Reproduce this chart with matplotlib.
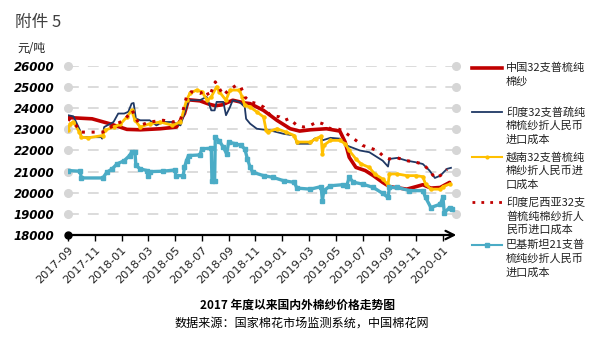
import matplotlib
matplotlib.use("Agg")
import matplotlib.pyplot as plt
from matplotlib.lines import Line2D

plt.rcParams['font.family'] = ['Noto Sans CJK SC', 'DejaVu Sans']

# ---------------- data (x = months since 2017-09) ----------------
tick_labels = ['2017-09', '2017-11', '2018-01', '2018-03', '2018-05', '2018-07', '2018-09',
               '2018-11', '2019-01', '2019-03', '2019-05', '2019-07', '2019-09', '2019-11', '2020-01']
y_ticks = [18000, 19000, 20000, 21000, 22000, 23000, 24000, 25000, 26000]

china_m = [0, 1.8, 3.1, 4.4, 5.4, 6.9, 8.1, 8.7, 9.0, 9.85, 10.5, 11.0, 11.5, 12.3, 13.2, 13.6,
           14.6, 15.6, 16.6, 17.3, 18.1, 19.3, 20.3, 20.7, 21.0, 21.5, 22.2, 22.8, 23.5, 24.0,
           25.3, 26.0, 26.5, 27.1, 27.8, 28.5]
china_v = [23560, 23500, 23270, 23000, 22980, 23030, 23110, 23750, 24400, 24350, 24200, 24120,
           24160, 24380, 24250, 24220, 23900, 23430, 23030, 22920, 22980, 23030, 22920, 22400,
           21680, 21200, 21050, 20810, 20490, 20290, 20170, 20290, 20380, 20220, 20250, 20490]

india_m = [0, 0.4, 0.9, 1.0, 2.5, 2.55, 2.7, 3.4, 3.75, 4.2, 4.5, 4.75, 4.9, 5.07, 5.4, 6.1,
           6.6, 7.1, 7.8, 8.4, 8.85, 9.0, 9.85, 10.35, 10.7, 10.95, 11.1, 11.6, 11.8, 12.1,
           12.3, 12.8, 13.2, 13.3, 13.6, 14.1, 15.1, 16.1, 16.9, 17.1, 18.1, 18.4, 18.9, 19.0,
           19.6, 20.3, 20.8, 21.8, 22.5, 22.9, 23.5, 23.9, 24.0, 24.6, 25.3, 26.0, 26.5, 27.0,
           27.4, 27.8, 28.3, 28.6]
india_v = [23670, 23620, 22950, 22630, 22630, 22560, 23110, 23350, 23750, 23750, 23830, 24220,
           24250, 23510, 23430, 23430, 23190, 23350, 23350, 23190, 24060, 24380, 24380, 24540,
           23900, 23900, 24300, 24300, 23670, 24060, 24380, 24300, 24060, 23500, 23270, 23030,
           22950, 22790, 22710, 22320, 22320, 22560, 22630, 22480, 22600, 22560, 22240, 22000,
           21920, 21760, 21520, 21240, 21600, 21650, 21520, 21440, 21360, 21050, 20700, 20810,
           21130, 21180]

viet_m = [0, 0.15, 0.4, 0.85, 1.0, 1.5, 2.6, 2.75, 3.4, 3.9, 4.4, 4.75, 5.0, 5.4, 6.1, 6.9,
          7.8, 8.4, 8.85, 9.1, 9.6, 10.0, 10.4, 10.7, 11.1, 11.3, 11.8, 12.1, 12.8, 13.0, 13.2,
          13.6, 14.1, 14.6, 14.8, 14.9, 15.6, 16.3, 16.9, 17.1, 18.1, 18.5, 18.9, 19.0, 19.1,
          19.6, 20.3, 20.7, 21.0, 21.5, 21.9, 22.5, 22.9, 23.5, 23.9, 24.0, 24.6, 25.3, 26.0,
          26.5, 26.7, 27.1, 27.8, 28.0, 28.5]
viet_v = [22950, 23270, 23350, 22870, 22630, 22600, 22710, 22950, 23110, 23240, 23590, 23900,
          23430, 23110, 23270, 23350, 23190, 23350, 24380, 24700, 24860, 24780, 24380, 24540,
          25020, 24780, 24380, 24860, 24860, 24540, 24140, 24060, 23830, 23590, 22950, 22870,
          23030, 22870, 22710, 22400, 22400, 22560, 22670, 21840, 22240, 22480, 22480, 22320,
          22000, 21600, 21360, 21200, 20890, 20650, 20380, 20890, 20890, 20810, 20810, 20760,
          20410, 20170, 20170, 20290, 20410]

indo_m = [0, 0.3, 0.6, 1.0, 2.6, 3.0, 3.65, 4.2, 4.6, 4.8, 5.07, 5.4, 6.1, 7.1, 7.8, 8.4,
          8.85, 9.2, 9.85, 10.3, 10.55, 11.0, 11.3, 11.6, 12.0, 12.6, 12.9, 13.2, 13.6, 14.1,
          14.6, 15.1, 15.8, 16.2, 16.5, 17.1, 17.6, 18.1, 18.6, 19.0, 19.6, 20.1, 20.5, 21.0,
          21.5, 22.0, 22.5, 23.1, 23.6, 24.0, 24.6, 25.3, 26.0, 26.5, 27.0, 27.4, 27.8, 28.3]
indo_v = [23510, 23350, 23190, 22870, 22870, 23030, 23270, 23430, 23750, 23900, 23510, 23190,
          23350, 23430, 23350, 23430, 24540, 24780, 24700, 24860, 24540, 25250, 24940, 24620,
          24860, 25100, 25020, 24540, 24300, 24220, 24060, 23670, 23590, 23430, 23510, 23190,
          23110, 23190, 23350, 23270, 23030, 23030, 22950, 22710, 22480, 22240, 22130, 22000,
          21700, 21600, 21650, 21520, 21440, 21360, 21050, 20700, 20810, 21100]

pak_m = [0, 0.9, 1.0, 2.6, 2.9, 3.3, 3.65, 4.2, 4.6, 4.75, 5.0, 5.07, 5.4, 5.9, 6.0, 6.1, 7.1,
         8.0, 8.05, 8.6, 8.7, 8.85, 9.0, 9.85, 10.0, 10.7, 10.75, 10.95, 11.0, 11.3, 11.6, 11.85,
         12.0, 12.5, 12.9, 13.2, 13.4, 13.6, 13.8, 14.6, 15.3, 16.1, 16.9, 17.1, 18.1, 18.9,
         19.0, 19.1, 19.6, 20.5, 20.8, 21.0, 21.3, 22.0, 22.8, 23.5, 23.9, 24.0, 24.6, 25.5,
         26.5, 26.7, 27.1, 27.8, 28.0, 28.1, 28.5, 28.7]
pak_v = [21050, 21020, 20700, 20700, 20970, 21130, 21360, 21520, 21760, 21920, 21920, 21290,
         21130, 21050, 20810, 21000, 21020, 21080, 20810, 20810, 21210, 21520, 21760, 21790,
         22080, 22110, 20570, 20570, 22630, 22450, 22160, 21840, 22400, 22320, 22240, 22080,
         21600, 21210, 20970, 20810, 20730, 20570, 20490, 20220, 20170, 20290, 19620, 20100,
         20330, 20380, 20300, 20730, 20500, 20410, 20250, 19970, 19780, 20250, 20250, 20100,
         20100, 19780, 19300, 19460, 19780, 19060, 19300, 19220]

labels = [
    ['中国32支普梳纯', '棉纱'],
    ['印度32支普疏纯', '棉梳纱折人民币', '进口成本'],
    ['越南32支普梳纯', '棉纱折人民币进', '口成本'],
    ['印度尼西亚32支', '普梳纯棉纱折人', '民币进口成本'],
    ['巴基斯坦21支普', '梳纯纱折人民币', '进口成本'],
]

# ---------------- figure ----------------
W, H = 608, 352
fig = plt.figure(figsize=(W / 100, H / 100), dpi=100)
ax = fig.add_axes([68 / W, 1 - 235 / H, 391 / W, (235 - 66) / H])
ax.set_xlim(0, 29.2)
ax.set_ylim(18000, 26000)
for s in ax.spines.values():
    s.set_visible(False)

# grid lines with end dots
for yv in y_ticks[1:]:
    ax.plot([0, 29.0], [yv, yv], color='#d9d9d9', lw=1.3, dashes=(6, 5), zorder=1)
    ax.plot([0, 29.0], [yv, yv], ls='none', marker='o', ms=5.5, color='#d6d6d6',
            clip_on=False, zorder=1)

# bottom axis with arrow
ax.annotate('', xy=(29.0, 18000), xytext=(0, 18000),
            arrowprops=dict(arrowstyle='->,head_length=0.6,head_width=0.3', color='black',
                            lw=1.6, shrinkA=0, shrinkB=0),
            annotation_clip=False, zorder=5)
ax.plot([0], [18000], marker='o', ms=5, color='black', clip_on=False, zorder=6)

# series
c_red = '#c00000'
c_navy = '#1f3864'
c_yel = '#ffc000'
c_lb = '#4bacc6'
ax.plot(china_m, china_v, color=c_red, lw=2.6, zorder=3, solid_capstyle='round')
ax.plot(india_m, india_v, color=c_navy, lw=1.3, zorder=4)
ax.plot(viet_m, viet_v, color=c_yel, lw=2.0, marker='o', ms=2.2, zorder=4)
ax.plot(indo_m, indo_v, color=c_red, lw=2.2, ls=(0, (1, 2.2)), zorder=5)
ax.plot(pak_m, pak_v, color=c_lb, lw=2.4, marker='s', ms=2.2, zorder=5)

# ticks
ax.set_yticks(y_ticks)
ax.set_yticklabels([str(v) for v in y_ticks], fontfamily='DejaVu Sans', fontweight='bold',
                   fontstyle='italic', fontsize=8.5, color='black')
ax.tick_params(axis='y', length=0, pad=10)
ax.set_xticks(list(range(0, 29, 2)))
ax.set_xticklabels(tick_labels, rotation=45, ha='right', rotation_mode='anchor',
                   fontfamily='DejaVu Sans', fontsize=8.2, color='#222222')
ax.tick_params(axis='x', length=4, width=1, color='black', pad=3)

# texts
fig.text(15 / W, 1 - 22 / H, '附件 5', fontsize=12, color='#404040', va='center', ha='left')
fig.text(17 / W, 1 - 49 / H, '元/吨', fontsize=8.5, color='#222222', va='center', ha='left')
fig.text(298 / W, 1 - 305 / H, '2017 年度以来国内外棉纱价格走势图', fontsize=8.5,
         fontweight='bold', color='black', va='center', ha='center')
fig.text(302 / W, 1 - 323 / H, '数据来源：国家棉花市场监测系统，中国棉花网', fontsize=8.7,
         color='black', va='center', ha='center')

# legend (manual)
entry_y = [68, 112, 157, 202, 245]
styles = [
    dict(color=c_red, lw=2.6),
    dict(color=c_navy, lw=1.3),
    dict(color=c_yel, lw=1.5, marker='o', ms=2, markevery=[1]),
    dict(color=c_red, lw=2.0, ls=(0, (1, 2.2))),
    dict(color=c_lb, lw=1.5, marker='s', ms=2.5, markevery=[1]),
]
for ey, st, lab in zip(entry_y, styles, labels):
    yy = 1 - ey / H
    fig.add_artist(Line2D([472 / W, 487 / W, 502 / W], [yy, yy, yy], **st))
    for i, line in enumerate(lab):
        fig.text(506 / W, 1 - (ey + 14 * i) / H, line, fontsize=8, color='#222222',
                 va='center', ha='left')

fig.savefig('out.png', dpi=100)
